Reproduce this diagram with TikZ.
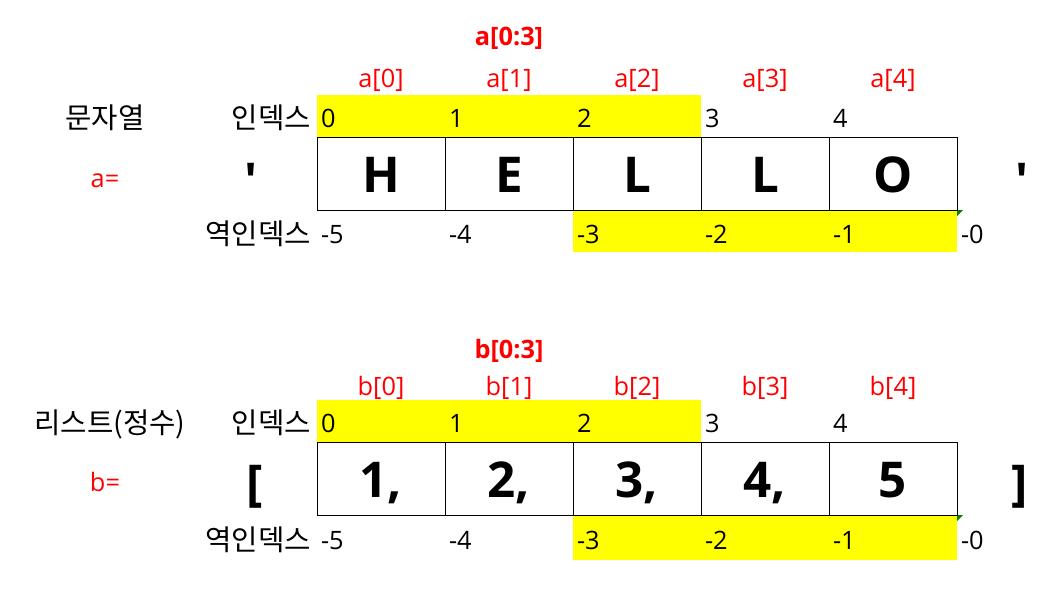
\documentclass[tikz,border=0pt]{standalone}
\usepackage{fontspec}
\setmainfont{Open Sans}
\newfontfamily\kr{Noto Sans CJK KR}
\newfontfamily\qfont{Open Sans}[Ligatures=TeXOff]
\definecolor{xred}{RGB}{255,0,0}
\definecolor{xyellow}{RGB}{255,255,0}
\definecolor{xgreen}{RGB}{0,128,0}
\begin{document}
\begin{tikzpicture}[x=0.75pt,y=-0.75pt,
  every node/.style={inner sep=0pt, outer sep=0pt},
  krtxt/.style={font=\kr\fontsize{21.5}{24}\selectfont, anchor=base east},
  krhead/.style={font=\kr\fontsize{21.5}{24}\selectfont, anchor=base},
  lbl/.style={font=\fontsize{19}{22}\selectfont, text=xred, anchor=base},
  slice/.style={font=\bfseries\fontsize{19}{22}\selectfont, text=xred, anchor=base},
  idx/.style={font=\fontsize{19}{22}\selectfont, anchor=base west},
  cell/.style={draw=black, line width=0.75pt, minimum width=96pt, minimum height=54.75pt,
    font=\bfseries\fontsize{37}{40}\selectfont, text height=29pt, text depth=0pt},
  big/.style={font=\qfont\bfseries\fontsize{37}{40}\selectfont, anchor=base},
  band/.style={fill=xyellow, draw=none}]
\useasboundingbox (0,0) rectangle (1051,604);

% ---------- string section ----------
\fill[band] (317,95) rectangle (701,137);
\fill[band] (573,210) rectangle (957,252);
\fill[xgreen] (957,210) -- (963,210) -- (957,216) -- cycle;

\node[slice] (aslice) at (509,45) {a[0:3]};
\foreach \k in {0,...,4} {
  \node[lbl] (al\k) at (381+128*\k,87) {a[\k]};
  \node[idx] (ai\k) at (321+128*\k,127) {\k};
}
\foreach \k/\v in {0/-5,1/-4,2/-3,3/-2,4/-1,5/-0} {
  \node[idx] (ar\k) at (321+128*\k,243) {\v};
}
\foreach \k/\t in {0/H,1/E,2/L,3/L,4/O} {
  \node[cell] (a\k) at (381+128*\k,173.5) {\t};
}
\node[krhead] (astr) at (105,128) {문자열};
\node[lbl] (aeq) at (105,187) {a=};
\node[krtxt] (aidx) at (311,128) {인덱스};
\node[krtxt] (aridx) at (311,244) {역인덱스};
\node[big] (aq1) at (251,198) {'};
\node[big] (aq2) at (1022,198) {'};

% ---------- list section ----------
\fill[band] (317,400) rectangle (701,442);
\fill[band] (573,515) rectangle (957,560);
\fill[xgreen] (957,515) -- (963,515) -- (957,521) -- cycle;

\node[slice] (bslice) at (509,358) {b[0:3]};
\foreach \k in {0,...,4} {
  \node[lbl] (bl\k) at (381+128*\k,395) {b[\k]};
  \node[idx] (bi\k) at (321+128*\k,432) {\k};
}
\foreach \k/\v in {0/-5,1/-4,2/-3,3/-2,4/-1,5/-0} {
  \node[idx] (br\k) at (321+128*\k,549) {\v};
}
\foreach \k/\t in {0/{1,},1/{2,},2/{3,},3/{4,},4/5} {
  \node[cell] (b\k) at (381+128*\k,478.5) {\t};
}
\node[krhead] (blist) at (110,433) {리스트(정수)};
\node[lbl] (beq) at (105,491) {b=};
\node[krtxt] (bidx) at (311,433) {인덱스};
\node[krtxt] (bridx) at (311,550) {역인덱스};
\node[big] (bb1) at (255,500) {[};
\node[big] (bb2) at (1020,500) {]};
\end{tikzpicture}
\end{document}
